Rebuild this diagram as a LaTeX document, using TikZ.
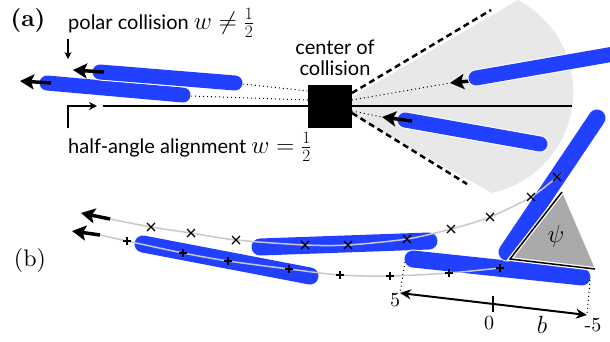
\documentclass[tikz,border=0pt]{standalone}
\usepackage{fontspec}
\newfontfamily\labelfont{Lato}
\newfontfamily\lmten[Extension=.otf,BoldFont=lmroman10-bold]{lmroman10-regular}
\usetikzlibrary{arrows.meta}
\definecolor{rodblue}{RGB}{34,64,255}
\definecolor{sectorgray}{RGB}{232,232,232}
\definecolor{trigray}{RGB}{170,170,170}
\definecolor{trajgray}{RGB}{200,200,200}
\begin{document}
\begin{tikzpicture}[x=1pt,y=-1pt,
  rodA/.style={draw=rodblue,line width=15pt,line cap=round,preaction={draw=white,line width=17pt,line cap=round}},
  rodB/.style={draw=rodblue,line width=17pt,line cap=round,preaction={draw=white,line width=19pt,line cap=round}},
  vel/.style={line width=3.5pt,-{Stealth[length=14pt,width=15pt,inset=3pt]}},
  dotline/.style={line width=1pt,dash pattern=on 1pt off 3pt},
  dashline/.style={line width=2.5pt,dash pattern=on 6pt off 4pt},
  traj/.style={draw=trajgray,line width=1.5pt},
  markline/.style={line width=1.2pt},
  sanslabel/.style={font=\labelfont\fontsize{20}{23}\selectfont,inner sep=0pt},
  numlabel/.style={font=\lmten\fontsize{20}{24}\selectfont,inner sep=0pt}]
\useasboundingbox (0,0) rectangle (610,341);
\clip (0,0) rectangle (610,341);
% ---------- panel (a) ----------
\fill[sectorgray] (352,97) -- (518,0) arc[start angle=-62.2,end angle=77.5,radius=103.7] -- (352,115) -- cycle;
\coordinate (hl0) at (103,106);
\coordinate (hl1) at (572,106);
\draw[line width=2pt] (hl0) -- (hl1);
\coordinate (dt0) at (352,93); \coordinate (dt1) at (491,10);
\coordinate (db0) at (352,113); \coordinate (db1) at (467,184);
\draw[dashline] (dt0) -- (dt1);
\draw[dashline] (db0) -- (db1);
% rods (a)
\coordinate (r1a) at (100,72); \coordinate (r1b) at (235,83);
\coordinate (r2a) at (47,83);  \coordinate (r2b) at (183,95);
\coordinate (r3a) at (476,78); \coordinate (r3b) at (614,54);
\coordinate (r4a) at (405,120);\coordinate (r4b) at (540,144);
% dotted lines
\coordinate (s1) at (308,91); \coordinate (s2) at (308,100);
\coordinate (s3) at (352,100); \coordinate (s4) at (352,111);
\coordinate (e1) at (243,84); \coordinate (e2) at (191,96);
\coordinate (tip3) at (450,83); \coordinate (tip4) at (382,117);
\draw[dotline] (e1) -- (s1);
\draw[dotline] (e2) -- (s2);
\draw[dotline] (s3) -- (tip3);
\draw[dotline] (s4) -- (tip4);
\coordinate (st3) at (470,81);
\draw[vel] (st3) -- (tip3);
\draw[rodA] (r2a) -- (r2b);
\draw[rodA] (r1a) -- (r1b);
\draw[rodA] (r3a) -- (r3b);
\draw[rodA] (r4a) -- (r4b);
\coordinate (st1) at (104,72); \coordinate (tip1) at (73,70);
\coordinate (st2) at (51,83);  \coordinate (tip2) at (20,81);
\coordinate (st4) at (412,121);
\draw[vel] (st1) -- (tip1);
\draw[vel] (st2) -- (tip2);
\draw[vel] (st4) -- (tip4);
\node[fill=black,minimum width=44pt,minimum height=43pt,inner sep=0pt] (sq) at (330,106.5) {};
% labels (a)
\node[font=\lmten\fontsize{24}{28}\selectfont\bfseries,inner sep=0pt] (la) at (28,20) {(a)};
\node[sanslabel,anchor=base west] (polar) at (68,29) {polar collision\ {\fontsize{25}{28}\selectfont$w\neq\frac{1}{2}$}};
\node[sanslabel,anchor=base west] (half) at (68,153) {half-angle alignment\ {\fontsize{25}{28}\selectfont$w=\frac{1}{2}$}};
\node[sanslabel,align=center] (coc) at (335,58) {center of\\[-2pt]collision};
\coordinate (pa0) at (68,39); \coordinate (pa1) at (68,59);
\draw[line width=1.5pt,-{Stealth[length=7pt,width=7pt]}] (pa0) -- (pa1);
\coordinate (ha0) at (68,128); \coordinate (ha1) at (97,106);
\draw[line width=2pt,-{Stealth[length=8pt,width=8pt]}] (ha0) |- (ha1);
% ---------- panel (b) ----------
\node[font=\lmten\fontsize{24}{28}\selectfont,inner sep=0pt] (lb) at (30,260) {(b)};
\coordinate (q1a) at (143,244); \coordinate (q1b) at (310,276);
\coordinate (q2a) at (260,247); \coordinate (q2b) at (429,241);
\coordinate (q3a) at (413,259); \coordinate (q3b) at (582,277);
\coordinate (q4a) at (507,252); \coordinate (q4b) at (597,118);
\draw[rodB] (q1a) -- (q1b);
\draw[rodB] (q2a) -- (q2b);
\draw[rodB] (q3a) -- (q3b);
\draw[rodB] (q4a) -- (q4b);
% triangle
\coordinate (t1) at (562,192); \coordinate (t2) at (510,259); \coordinate (t3) at (595,269);
\fill[trigray] (t1) -- (t2) -- (t3) -- cycle;
\draw[white,line width=4pt] (t1) -- (t2) -- (t3);
\draw[black,line width=1.5pt] (t1) -- (t2) -- (t3);
\node[font=\fontsize{30}{34}\selectfont,inner sep=0pt] (psi) at (556,236) {$\psi$};
% trajectories
\draw[traj] plot[smooth] coordinates {(110,219) (151,227) (191,233) (236,240) (305,245) (348,245) (407,239) (451,229) (490,217) (531,197) (557,177) (561,173)};
\draw[traj] plot[smooth] coordinates {(100,235) (127,241) (183,253) (228,261) (289,269) (340,275) (390,276) (449,273) (500,268)};
\foreach \p in {(151,227),(191,233),(236,240),(305,245),(348,245),(407,239),(451,229),(490,217),(531,197),(557,177)}
  \draw[markline] \p ++(-4,-4) -- ++(8,8) ++(0,-8) -- ++(-8,8);
\foreach \p in {(127,241),(183,253),(228,261),(289,269),(340,275),(390,276),(449,273),(500,268)}
  \draw[markline] \p ++(-4,0) -- ++(8,0) ++(-4,-4) -- ++(0,8);
\coordinate (bs1) at (110,219); \coordinate (bt1) at (81,213);
\coordinate (bs2) at (100,235); \coordinate (bt2) at (72,231);
\draw[vel] (bs1) -- (bt1);
\draw[vel] (bs2) -- (bt2);
% b axis
\coordinate (ax0) at (400,293); \coordinate (ax1) at (587,315);
\coordinate (ax0t) at (405,262); \coordinate (ax1t) at (590,280);
\draw[dotline] (ax0t) -- (ax0);
\draw[dotline] (ax1t) -- (ax1);
\draw[line width=2pt,{Stealth[length=11pt,width=10pt]}-{Stealth[length=11pt,width=10pt]}] (ax0) -- (ax1);
\coordinate (tk0) at (493,296); \coordinate (tk1) at (493,312);
\draw[line width=2pt] (tk0) -- (tk1);
\node[numlabel] (n5) at (395,300) {5};
\node[numlabel] (n0) at (489,323) {0};
\node[numlabel] (nm5) at (593,325) {-5};
\node[font=\fontsize{30}{34}\selectfont,inner sep=0pt] (bl) at (542,325) {$b$};
\end{tikzpicture}
\end{document}
